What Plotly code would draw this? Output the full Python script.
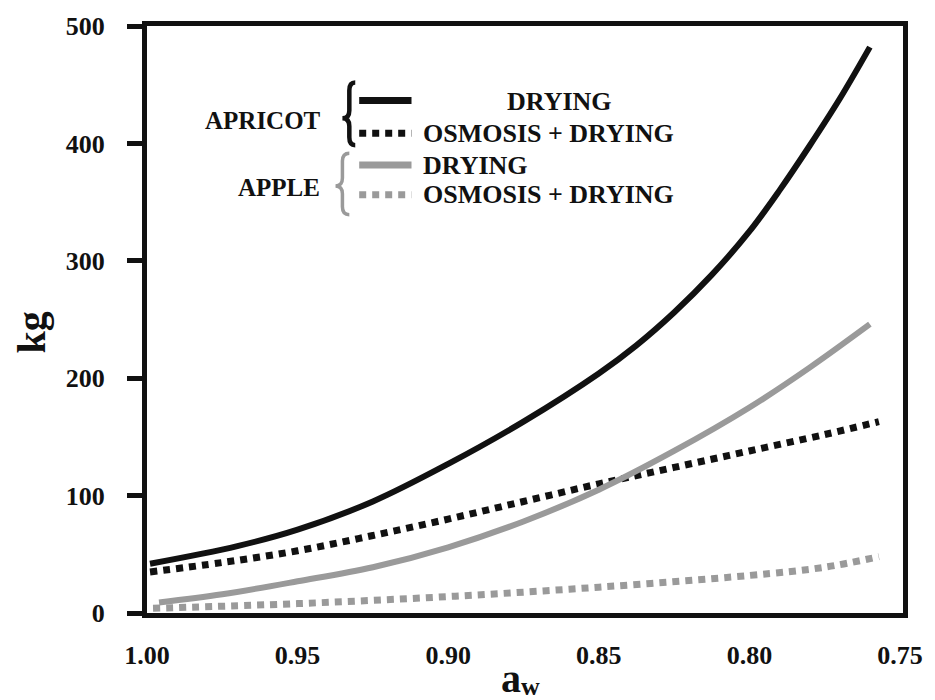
import plotly.graph_objects as go

# ---- data ----
apricot_drying_aw = [0.999, 0.970, 0.950, 0.925, 0.900, 0.875, 0.850, 0.8375, 0.825, 0.8125, 0.800, 0.790, 0.780, 0.770, 0.760]
apricot_drying_kg = [42, 57, 71, 95, 127, 163, 204, 228, 256, 288, 325, 360, 398, 438, 482]

apricot_osm_aw = [0.999, 0.975, 0.950, 0.925, 0.900, 0.875, 0.850, 0.825, 0.800, 0.775, 0.757]
apricot_osm_kg = [35, 43, 53, 66, 80, 95, 110, 124, 138, 152, 163]

apple_drying_aw = [0.996, 0.975, 0.950, 0.925, 0.900, 0.875, 0.850, 0.825, 0.800, 0.780, 0.760]
apple_drying_kg = [9, 16, 27, 39, 56, 78, 105, 138, 175, 209, 246]

apple_osm_aw = [0.998, 0.950, 0.900, 0.850, 0.800, 0.775, 0.757]
apple_osm_kg = [4, 8, 14, 22, 32, 39, 48]

x_ticks = [1.00, 0.95, 0.90, 0.85, 0.80, 0.75]
x_ticktext = ["1.00", "0.95", "0.90", "0.85", "0.80", "0.75"]
y_ticks = [0, 100, 200, 300, 400, 500]

BLACK = "#111111"
GRAY = "#9a9a9a"
FONT = "Liberation Serif, Times New Roman, serif"
DOT = "7px,6px"

# plot area in pixels
L, R, T, B = 147, 913, 22, 613
W, H = 935, 700


def P(px, py):
    return (px - L) / (R - L), (B - py) / (B - T)


fig = go.Figure()
fig.add_trace(go.Scatter(x=apricot_drying_aw, y=apricot_drying_kg, mode="lines",
                         line=dict(color=BLACK, width=6, shape="spline", smoothing=1.0)))
fig.add_trace(go.Scatter(x=apricot_osm_aw, y=apricot_osm_kg, mode="lines",
                         line=dict(color=BLACK, width=7, dash=DOT, shape="spline", smoothing=1.0)))
fig.add_trace(go.Scatter(x=apple_drying_aw, y=apple_drying_kg, mode="lines",
                         line=dict(color=GRAY, width=6, shape="spline", smoothing=1.0)))
fig.add_trace(go.Scatter(x=apple_osm_aw, y=apple_osm_kg, mode="lines",
                         line=dict(color=GRAY, width=7, dash=DOT, shape="spline", smoothing=1.0)))

shapes = []
# legend samples
for y, col, dash, w in [(97, BLACK, "solid", 7), (130, BLACK, DOT, 7),
                        (162, GRAY, "solid", 7), (192, GRAY, DOT, 7)]:
    x0, y0 = P(362, y)
    x1, _ = P(415, y)
    shapes.append(dict(type="line", xref="paper", yref="paper", x0=x0, x1=x1, y0=y0, y1=y0,
                       line=dict(color=col, width=w, dash=dash)))


def brace(xr, xm, xl, yt, ymid, yb, color, width):
    def f(px, py):
        a, b = P(px, py)
        return f"{a:.5f},{b:.5f}"
    r = 8
    path = (f"M{f(xr, yt)} Q{f(xm, yt)} {f(xm, yt + r)} L{f(xm, ymid - r)} "
            f"Q{f(xm, ymid)} {f(xl, ymid)} Q{f(xm, ymid)} {f(xm, ymid + r)} "
            f"L{f(xm, yb - r)} Q{f(xm, yb)} {f(xr, yb)}")
    return dict(type="path", xref="paper", yref="paper", path=path,
                line=dict(color=color, width=width))


shapes.append(brace(358, 352, 345, 79, 115, 142, BLACK, 4.5))
shapes.append(brace(352, 345, 338, 150, 183, 212, GRAY, 3.5))

ann = []


def text(t, px, py, size=26, xanchor="center", color=BLACK, angle=0):
    x, y = P(px, py)
    ann.append(dict(text=t, x=x, y=y, xref="paper", yref="paper", xanchor=xanchor,
                    yanchor="middle", showarrow=False, textangle=angle,
                    font=dict(family=FONT, size=size, color=color, weight="bold")))


text("APRICOT", 265, 117, size=25)
text("DRYING", 565, 98)
text("OSMOSIS + DRYING", 425, 130, xanchor="left")
text("APPLE", 281, 185, size=25)
text("DRYING", 425, 162, xanchor="left")
text("OSMOSIS + DRYING", 425, 192, xanchor="left")
text("kg", 30, 331, size=40, angle=-90)
text("a", 516, 679, size=40)
text("w", 536, 687, size=26)

fig.update_layout(
    width=W, height=H,
    margin=dict(l=L, r=W - R, t=T, b=H - B, pad=0),
    plot_bgcolor="white", paper_bgcolor="white",
    showlegend=False,
    shapes=shapes, annotations=ann,
    xaxis=dict(range=[1.0, 0.749], tickvals=x_ticks, ticktext=x_ticktext,
               showgrid=False, zeroline=False, showline=True, linecolor=BLACK,
               linewidth=5, mirror=True, ticks="", ticklabelstandoff=15,
               tickfont=dict(family=FONT, size=26, color=BLACK, weight="bold")),
    yaxis=dict(range=[0, 500], tickvals=y_ticks, showgrid=False, zeroline=False,
               showline=True, linecolor=BLACK, linewidth=5, mirror=True,
               ticks="outside", ticklen=15, tickwidth=5, tickcolor=BLACK,
               ticklabelstandoff=17,
               tickfont=dict(family=FONT, size=26, color=BLACK, weight="bold")),
)

fig.write_html("out.html")
